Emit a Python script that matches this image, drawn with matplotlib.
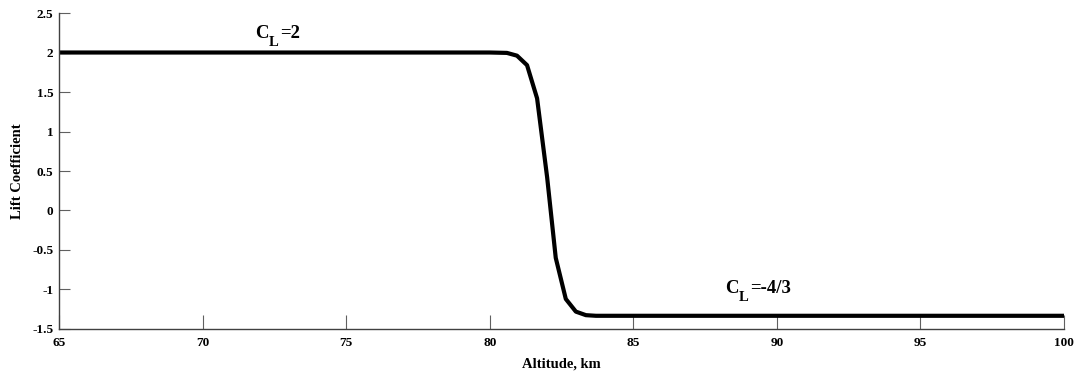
import matplotlib
matplotlib.use("Agg")
import matplotlib.pyplot as plt

# Lift coefficient vs altitude
altitude_km = [65.0, 70.0, 75.0, 80.0, 80.6, 80.95, 81.3, 81.65, 82.0, 82.3,
               82.65, 83.0, 83.35, 83.7, 85.0, 90.0, 95.0, 100.0]
lift_coeff = [2.0, 2.0, 2.0, 2.0, 1.995, 1.96, 1.84, 1.42, 0.42, -0.6,
              -1.12, -1.28, -1.325, -1.333, -1.333, -1.333, -1.333, -1.333]

x_ticks = [65, 70, 75, 80, 85, 90, 95, 100]
y_ticks = [-1.5, -1, -0.5, 0, 0.5, 1, 1.5, 2, 2.5]
y_tick_labels = ["-1.5", "-1", "-0.5", "0", "0.5", "1", "1.5", "2", "2.5"]

plt.rcParams["font.family"] = ["Liberation Serif", "DejaVu Serif"]
plt.rcParams["font.weight"] = "bold"


def label_cl(ax, x, y, value, size=13.5):
    """C with a big, low subscript L, then '=value' (as in the reference)."""
    kw = dict(textcoords="offset points", ha="left", va="baseline",
              fontweight="bold")
    ax.annotate("C", (x, y), xytext=(0, 0), fontsize=size, **kw)
    ax.annotate("L", (x, y), xytext=(0.72 * size, -0.42 * size),
                fontsize=size * 0.78, **kw)
    ax.annotate("=" + value, (x, y), xytext=(0.72 * size + 0.62 * size, 0),
                fontsize=size, **kw)


fig = plt.figure(figsize=(10.8, 3.75), dpi=100)
ax = fig.add_axes([0.0546, 0.1227, 0.9306, 0.8426])

ax.plot(altitude_km, lift_coeff, color="black", lw=3.0, solid_joinstyle="round")

ax.set_xlim(65, 100)
ax.set_ylim(-1.5, 2.5)
ax.set_xticks(x_ticks)
ax.set_xticklabels([str(t) for t in x_ticks])
ax.set_yticks(y_ticks)
ax.set_yticklabels(y_tick_labels)

for side in ("top", "right"):
    ax.spines[side].set_visible(False)
for side in ("left", "bottom"):
    ax.spines[side].set_color("#404040")
    ax.spines[side].set_linewidth(1.0)

ax.tick_params(axis="x", direction="in", length=10, color="#606060",
               labelsize=9.5, pad=6)
ax.tick_params(axis="y", direction="in", length=8, color="#606060",
               labelsize=9.5, pad=4)

ax.set_xlabel("Altitude, km", fontsize=10.5, fontweight="bold", labelpad=6)
ax.set_ylabel("Lift Coefficient", fontsize=10.5, fontweight="bold", labelpad=6)

label_cl(ax, 71.83, 2.18, "2")
label_cl(ax, 88.2, -1.05, "-4/3")

fig.savefig("out.png", dpi=100)
